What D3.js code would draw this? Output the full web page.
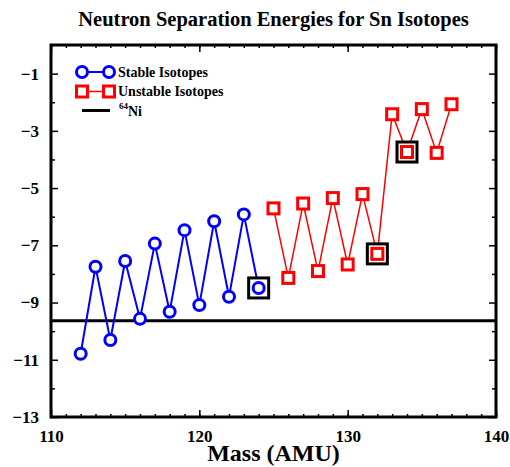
<!DOCTYPE html>
<html>
<head>
<meta charset="utf-8">
<script src="https://cdn.jsdelivr.net/npm/d3@7"></script>
<style>
  body { margin: 0; background: #fff; }
  svg { font-family: "Liberation Serif", "Times New Roman", serif; font-weight: bold; }
</style>
</head>
<body>
<div id="chart"></div>
<script>
// stable Sn isotopes (mass, energy in MeV)
var stableMass = [112, 113, 114, 115, 116, 117, 118, 119, 120, 121, 122, 123, 124];
var stableEnergy = [-10.79, -7.75, -10.31, -7.55, -9.57, -6.94, -9.32, -6.47, -9.09, -6.16, -8.8, -5.92, -8.49];

// unstable ones
var unstableMass = [125, 126, 127, 128, 129, 130, 131, 132, 133, 134, 135, 136, 137];
var unstableEnergy = [-5.71, -8.14, -5.54, -7.9, -5.35, -7.67, -5.21, -7.3, -2.42, -3.74, -2.24, -3.77, -2.07];

// boxed points
var boxedMass = [124, 132, 134];

var ni64 = -9.64;

var xTicks = [110, 120, 130, 140];
var yTicks = [-1, -3, -5, -7, -9, -11, -13];

var W = 510, H = 467;
var margin = {left: 51, right: 14, top: 45, bottom: 50};

var svg = d3.select("#chart").append("svg").attr("width", W).attr("height", H);

var x = d3.scaleLinear().domain([110, 140]).range([margin.left, W - margin.right]);
var y = d3.scaleLinear().domain([-13, 0]).range([H - margin.bottom, margin.top]);

var stable = stableMass.map(function(m, i) { return {m: m, e: stableEnergy[i]}; });
var unstable = unstableMass.map(function(m, i) { return {m: m, e: unstableEnergy[i]}; });
var allPts = stable.concat(unstable);

// title
svg.append("text")
  .attr("x", (x.range()[0] + x.range()[1]) / 2)
  .attr("y", 26)
  .attr("text-anchor", "middle")
  .style("font-size", "20.5px")
  .text("Neutron Separation Energies for Sn Isotopes");

// ticks, inward on all 4 sides
var fmt = function(d) { return d < 0 ? "\u2212" + Math.abs(d) : d; };
var labelStyle = function(g) {
  g.selectAll("text").style("font-size", "17px")
    .style("font-family", "Liberation Serif").style("font-weight", "bold");
};

svg.append("g")
  .attr("transform", "translate(0," + y(-13) + ")")
  .call(d3.axisBottom(x).tickValues(d3.range(110, 141, 1)).tickSize(-3).tickFormat(""))
  .call(function(g) { g.select(".domain").remove(); g.selectAll("line").attr("stroke-width", 1.5); });
svg.append("g")
  .attr("transform", "translate(0," + y(-13) + ")")
  .call(d3.axisBottom(x).tickValues(xTicks).tickSize(-7).tickPadding(13).tickFormat(fmt))
  .call(function(g) {
    g.select(".domain").remove();
    g.selectAll("line").attr("stroke-width", 1.5);
    labelStyle(g);
  });
svg.append("g")
  .attr("transform", "translate(0," + y(0) + ")")
  .call(d3.axisTop(x).tickValues(d3.range(110, 141, 1)).tickSize(-3).tickFormat(""))
  .call(function(g) { g.select(".domain").remove(); g.selectAll("line").attr("stroke-width", 1.5); });
svg.append("g")
  .attr("transform", "translate(0," + y(0) + ")")
  .call(d3.axisTop(x).tickValues(xTicks).tickSize(-7).tickFormat(""))
  .call(function(g) { g.select(".domain").remove(); g.selectAll("line").attr("stroke-width", 1.5); });

svg.append("g")
  .attr("transform", "translate(" + x(110) + ",0)")
  .call(d3.axisLeft(y).tickValues(d3.range(-12, 0, 2)).tickSize(-4).tickFormat(""))
  .call(function(g) { g.select(".domain").remove(); g.selectAll("line").attr("stroke-width", 1.5); });
svg.append("g")
  .attr("transform", "translate(" + x(110) + ",0)")
  .call(d3.axisLeft(y).tickValues(yTicks).tickSize(-7).tickPadding(12).tickFormat(fmt))
  .call(function(g) {
    g.select(".domain").remove();
    g.selectAll("line").attr("stroke-width", 1.5);
    labelStyle(g);
  });
svg.append("g")
  .attr("transform", "translate(" + x(140) + ",0)")
  .call(d3.axisRight(y).tickValues(d3.range(-12, 0, 2)).tickSize(-4).tickFormat(""))
  .call(function(g) { g.select(".domain").remove(); g.selectAll("line").attr("stroke-width", 1.5); });
svg.append("g")
  .attr("transform", "translate(" + x(140) + ",0)")
  .call(d3.axisRight(y).tickValues(yTicks).tickSize(-7).tickFormat(""))
  .call(function(g) { g.select(".domain").remove(); g.selectAll("line").attr("stroke-width", 1.5); });

// frame
svg.append("rect")
  .attr("x", x(110)).attr("y", y(0))
  .attr("width", x(140) - x(110)).attr("height", y(-13) - y(0))
  .attr("fill", "none").attr("stroke", "#000").attr("stroke-width", 3);

// x label
svg.append("text")
  .attr("x", (x.range()[0] + x.range()[1]) / 2)
  .attr("y", 461)
  .attr("text-anchor", "middle")
  .style("font-size", "24px")
  .text("Mass (AMU)");

// 64Ni line
svg.append("line")
  .attr("x1", x(110)).attr("x2", x(140))
  .attr("y1", y(ni64)).attr("y2", y(ni64))
  .attr("stroke", "#000").attr("stroke-width", 3);

var line = d3.line().x(function(d) { return x(d.m); }).y(function(d) { return y(d.e); });

svg.append("path")
  .datum(unstable)
  .attr("d", line)
  .attr("fill", "none").attr("stroke", "#f00").attr("stroke-width", 1.5);
svg.append("path")
  .datum(stable)
  .attr("d", line)
  .attr("fill", "none").attr("stroke", "#00f").attr("stroke-width", 2);

// boxes around highlighted points
svg.selectAll(".box")
  .data(allPts.filter(function(d) { return boxedMass.indexOf(d.m) >= 0; }))
  .enter().append("rect")
  .attr("class", "box")
  .attr("x", function(d) { return x(d.m) - 10; })
  .attr("y", function(d) { return y(d.e) - 10; })
  .attr("width", 20).attr("height", 20)
  .attr("fill", "#fff").attr("stroke", "#000").attr("stroke-width", 3);

svg.selectAll(".stab")
  .data(stable)
  .enter().append("circle")
  .attr("class", "stab")
  .attr("cx", function(d) { return x(d.m); })
  .attr("cy", function(d) { return y(d.e); })
  .attr("r", 5.5)
  .attr("fill", "#fff").attr("stroke", "#00f").attr("stroke-width", 3);

svg.selectAll(".unst")
  .data(unstable)
  .enter().append("rect")
  .attr("class", "unst")
  .attr("x", function(d) { return x(d.m) - 5.5; })
  .attr("y", function(d) { return y(d.e) - 5.5; })
  .attr("width", 11).attr("height", 11)
  .attr("fill", "#fff").attr("stroke", "#f00").attr("stroke-width", 3);

// legend
var lg = svg.append("g");
lg.append("line").attr("x1", 82).attr("x2", 109).attr("y1", 72).attr("y2", 72)
  .attr("stroke", "#00f").attr("stroke-width", 2);
[82, 109].forEach(function(cx) {
  lg.append("circle").attr("cx", cx).attr("cy", 72).attr("r", 5.5)
    .attr("fill", "#fff").attr("stroke", "#00f").attr("stroke-width", 3);
});
lg.append("text").attr("x", 118).attr("y", 77).style("font-size", "14px").text("Stable Isotopes");

lg.append("line").attr("x1", 82).attr("x2", 109).attr("y1", 91.5).attr("y2", 91.5)
  .attr("stroke", "#f00").attr("stroke-width", 1.5);
[82, 109].forEach(function(cx) {
  lg.append("rect").attr("x", cx - 5.5).attr("y", 86).attr("width", 11).attr("height", 11)
    .attr("fill", "#fff").attr("stroke", "#f00").attr("stroke-width", 3);
});
lg.append("text").attr("x", 118).attr("y", 96).style("font-size", "14px").text("Unstable Isotopes");

lg.append("line").attr("x1", 82).attr("x2", 110).attr("y1", 110.5).attr("y2", 110.5)
  .attr("stroke", "#000").attr("stroke-width", 3);
var ni = lg.append("text").attr("x", 119).attr("y", 116).style("font-size", "14px");
ni.append("tspan").attr("dy", -7).style("font-size", "9px").text("64");
ni.append("tspan").attr("dy", 7).text("Ni");
</script>
</body>
</html>
